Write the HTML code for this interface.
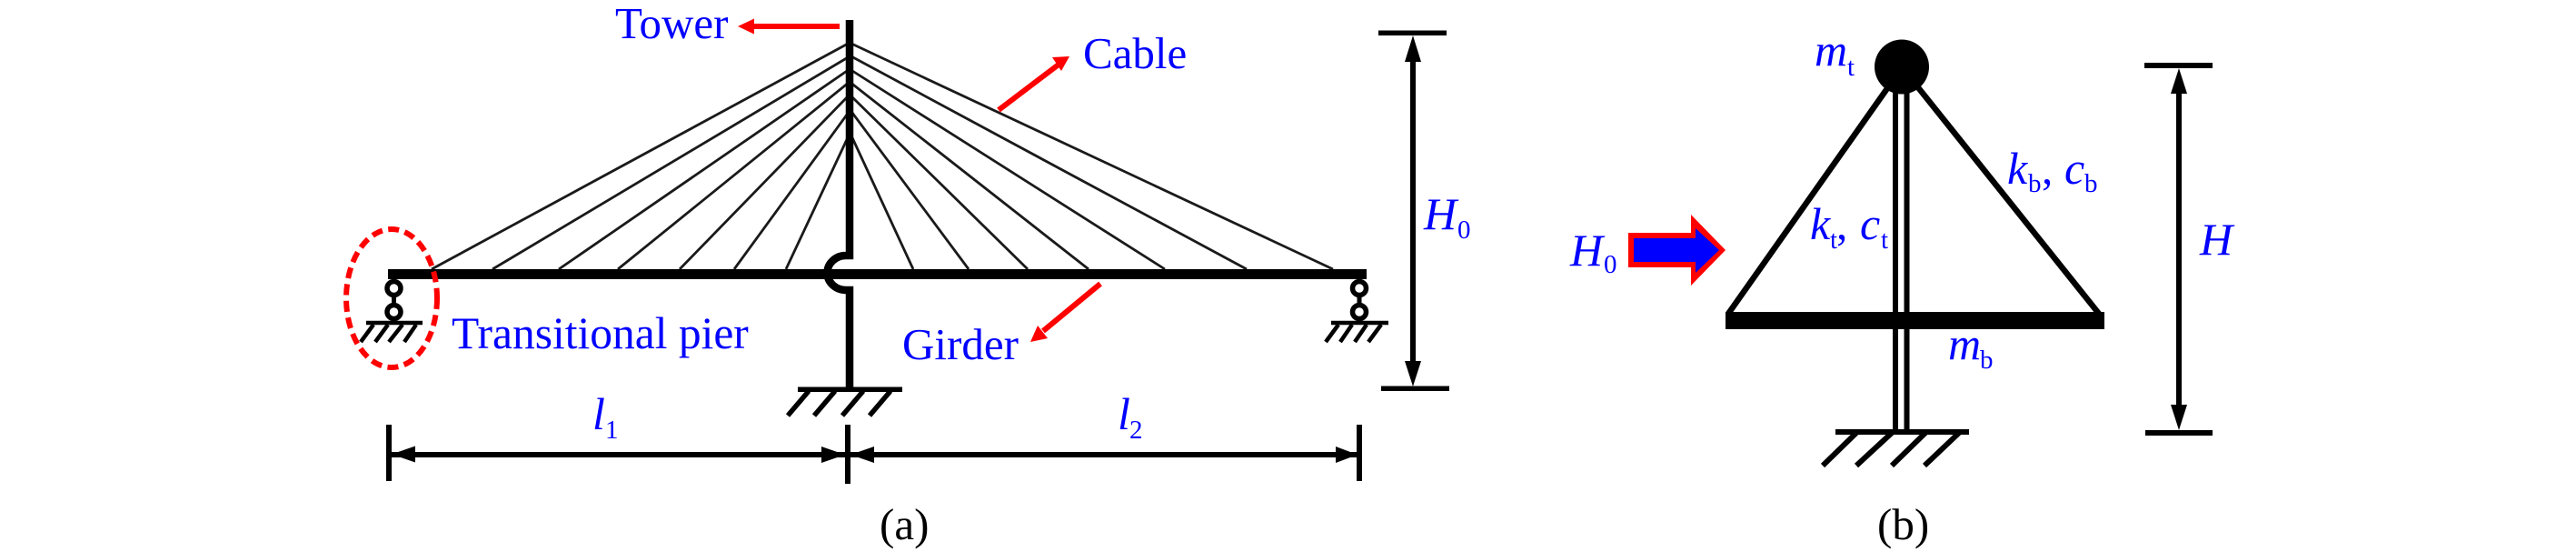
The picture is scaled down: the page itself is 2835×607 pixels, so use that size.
<!DOCTYPE html>
<html>
<head>
<meta charset="utf-8">
<style>
html,body{margin:0;padding:0;background:#fff;width:2835px;height:607px;overflow:hidden}
svg{display:block}
text{font-family:"Liberation Serif",serif}
.b{fill:#0000ff;font-size:49px}
.i{fill:#0000ff;font-size:50px;font-style:italic}
.s{fill:#0000ff;font-size:29px}
.k{fill:#000;font-size:49px}
</style>
</head>
<body>
<svg width="2835" height="607" viewBox="0 0 2835 607" xmlns="http://www.w3.org/2000/svg">
<rect width="2835" height="607" fill="#fff"/>

<!-- cables -->
<g stroke="#1a1a1a" stroke-width="2.8" fill="none">
<path d="M935,47L475,296M935,62L542,296M935,76L615,296M935,90L680,296M935,104L748,296M935,122L808,296M935,147L865,296"/>
<path d="M935,47L1467,296M935,61L1372,296M935,76L1282,296M935,90L1198,296M935,104L1131,296M935,120L1066,296M935,145L1005,296"/>
</g>

<!-- girder -->
<rect x="427" y="296" width="1077" height="11" fill="#000"/>

<!-- tower -->
<path d="M935,22V281H931A20.5,19 0 0 0 910.5,300A20.5,19 0 0 0 931,319H935V428" fill="none" stroke="#000" stroke-width="8.5"/>

<!-- tower ground -->
<rect x="878" y="425.5" width="115" height="5.5" fill="#000"/>
<path d="M890,430L867,457M919,430L896,457M950,430L927,457M980,430L957,457" stroke="#000" stroke-width="5.5" fill="none"/>

<!-- left pier -->
<g fill="none" stroke="#000">
<circle cx="433.5" cy="317" r="7.5" stroke-width="5.5"/>
<circle cx="433.5" cy="343" r="7.5" stroke-width="5.5"/>
<path d="M433.5,324V336" stroke-width="5"/>
<path d="M403,355H465" stroke-width="4.5"/>
<path d="M411,357L397,376M427,357L413,376M443,357L428,376M458,357L445,376" stroke-width="4.5"/>
</g>

<!-- right pier -->
<g fill="none" stroke="#000">
<circle cx="1496" cy="317" r="7.5" stroke-width="5.5"/>
<circle cx="1496" cy="343" r="7.5" stroke-width="5.5"/>
<path d="M1496,324V336" stroke-width="5"/>
<path d="M1465,355H1528" stroke-width="4.5"/>
<path d="M1473,357L1459,376M1488,357L1475,376M1504,357L1491,376M1520,357L1506,376" stroke-width="4.5"/>
</g>

<!-- dashed ellipse -->
<ellipse cx="431" cy="328" rx="50" ry="76" fill="none" stroke="#ff0000" stroke-width="6" stroke-dasharray="12 6.5"/>

<!-- red arrows -->
<g fill="#ff0000">
<rect x="826" y="26" width="98" height="6"/>
<polygon points="812,29 830,20.5 830,37.5"/>
<path d="M1099,121L1165,71" stroke="#ff0000" stroke-width="6" fill="none"/>
<polygon points="1177,62 1158,63 1168,78"/>
<path d="M1211,312L1148,364" stroke="#ff0000" stroke-width="6" fill="none"/>
<polygon points="1134,376 1153,372 1142,358"/>
</g>

<!-- l dimension -->
<g fill="#000">
<rect x="428" y="497" width="1068" height="6"/>
<rect x="425" y="467" width="6" height="62"/>
<rect x="930" y="467" width="6" height="65"/>
<rect x="1493" y="467" width="6" height="62"/>
<polygon points="431,499.5 457,490.5 457,508.5"/>
<polygon points="930,500 904,491 904,509"/>
<polygon points="936,500 962,491 962,509"/>
<polygon points="1494,500 1470,491 1470,509"/>
</g>

<!-- H0 dimension -->
<g fill="#000">
<rect x="1517" y="33.5" width="75" height="5.5"/>
<rect x="1520" y="424.5" width="75" height="5.5"/>
<rect x="1552" y="60" width="6" height="345"/>
<polygon points="1555,39 1546,68 1564,68"/>
<polygon points="1555,425 1546,397 1564,397"/>
</g>

<!-- (a) labels -->
<text class="b" x="677" y="42">Tower</text>
<text class="b" x="1192" y="75">Cable</text>
<text class="b" x="497" y="383" style="font-size:49.5px">Transitional pier</text>
<text class="b" x="993" y="395">Girder</text>
<text class="i" x="652" y="472">l</text><text class="s" x="666" y="482">1</text>
<text class="i" x="1230" y="472">l</text><text class="s" x="1243" y="482">2</text>
<text class="i" x="1567" y="252">H</text><text class="s" x="1604" y="262">0</text>
<text class="k" x="968" y="593">(a)</text>

<!-- (b) structure -->
<g stroke="#000" fill="none">
<path d="M1902,345L2080,93" stroke-width="6.5"/>
<path d="M2310,345L2110,95" stroke-width="6.5"/>
<path d="M2086,100V475M2098.5,100V475" stroke-width="6"/>
<path d="M2006,512L2043,476M2043,512L2082,476M2082,512L2119,476M2118,512L2156,476" stroke-width="6"/>
</g>
<circle cx="2093" cy="73.5" r="30" fill="#000"/>
<rect x="1899" y="343" width="417" height="19" fill="#000"/>
<rect x="2020" y="472" width="147" height="6" fill="#000"/>

<!-- H0 block arrow -->
<polygon points="1792,256 1861,256 1861,236 1899,275 1861,314 1861,294 1792,294" fill="#ff0000"/>
<polygon points="1798,262 1866,262 1866,251 1892,275 1866,300 1866,288 1798,288" fill="#0000ff"/>

<!-- H dimension -->
<g fill="#000">
<rect x="2360" y="69" width="75" height="6"/>
<rect x="2361" y="473" width="74" height="6"/>
<rect x="2395" y="95" width="6" height="355"/>
<polygon points="2398,75 2389,103 2407,103"/>
<polygon points="2398,473 2389,445 2407,445"/>
</g>

<!-- (b) labels -->
<text class="i" x="1997" y="72">m</text><text class="s" x="2033" y="83">t</text>
<text class="i" x="1992" y="263">k</text><text class="s" x="2014" y="273">t</text><text class="b" x="2021" y="263">,</text><text class="i" x="2047" y="263">c</text><text class="s" x="2070" y="273">t</text>
<text class="i" x="2209" y="202">k</text><text class="s" x="2232" y="211">b</text><text class="b" x="2247" y="202">,</text><text class="i" x="2272" y="202">c</text><text class="s" x="2294" y="211">b</text>
<text class="i" x="1728" y="292">H</text><text class="s" x="1765" y="300">0</text>
<text class="i" x="2144" y="395">m</text><text class="s" x="2179" y="405">b</text>
<text class="i" x="2421" y="280">H</text>
<text class="k" x="2066" y="593">(b)</text>
</svg>
</body>
</html>
